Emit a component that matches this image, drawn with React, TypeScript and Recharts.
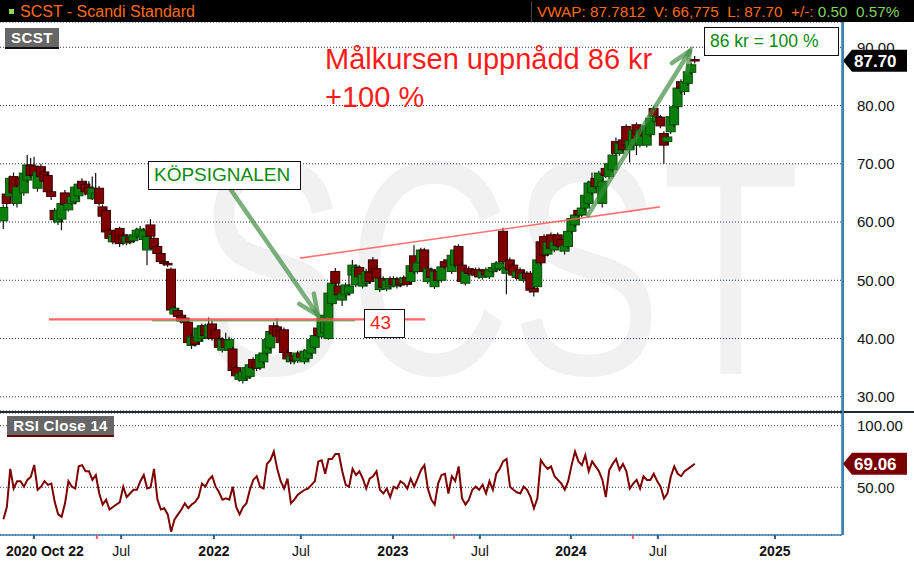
import React from "react";
import {
  Bar,
  CartesianGrid,
  ComposedChart,
  Line,
  ReferenceLine,
  XAxis,
  YAxis
} from "recharts";

const FONT = "'Liberation Sans', Arial, Helvetica, sans-serif";

// weekly candles, late Oct 2020 -> mid Sep 2024
const opens = [
  60.2, 64.8, 64.4, 67.8, 63.2, 67.6, 65.0, 67.2, 69.8, 69.6,
  65.8, 69.5, 68.6, 68.0, 65.2, 62.0, 60.0, 60.5, 65.0, 62.1,
  63.2, 63.5, 64.5, 67.0, 66.5, 66.0, 64.0, 64.0, 65.8, 62.6,
  62.0, 58.6, 56.6, 58.5, 58.9, 57.8, 56.4, 57.3, 56.8, 57.5,
  57.8, 57.0, 55.2, 59.5, 57.2, 55.8, 54.6, 53.2, 52.9, 51.9,
  44.2, 44.8, 44.0, 43.5, 42.8, 38.8, 40.2, 39.5, 40.0, 42.2,
  40.2, 42.5, 41.5, 40.0, 38.0, 39.8, 38.0, 38.2, 35.0, 33.0,
  32.8, 33.2, 33.5, 36.4, 36.0, 35.0, 36.0, 37.5, 38.4, 42.2,
  42.0, 41.4, 41.5, 37.6, 36.0, 37.0, 36.2, 37.5, 36.0, 36.6,
  37.5, 38.5, 41.8, 40.3, 41.0, 40.0, 46.0, 51.5, 49.0, 46.6,
  47.5, 47.8, 50.9, 49.2, 52.2, 49.0, 49.5, 51.4, 53.5, 52.0,
  48.4, 50.3, 48.5, 48.9, 50.3, 49.0, 50.2, 49.5, 50.5, 49.8,
  54.2, 51.5, 53.0, 55.2, 49.8, 51.8, 48.9, 51.5, 50.0, 53.2,
  53.5, 51.5, 52.6, 55.8, 52.6, 49.5, 52.0, 51.6, 51.8, 51.8,
  50.5, 51.8, 50.6, 51.5, 51.8, 52.0, 58.4, 51.2, 53.5, 52.6,
  50.5, 51.8, 50.0, 51.2, 51.2, 48.6, 48.9, 56.6, 57.5, 54.5,
  57.8, 55.2, 57.8, 57.0, 55.0, 55.8, 58.4, 59.5, 62.0, 61.2,
  62.4, 63.2, 65.0, 67.5, 66.1, 63.2, 69.2, 67.8, 69.0, 73.8,
  71.8, 74.1, 76.4, 72.4, 73.2, 76.7, 73.2, 75.6, 73.2, 75.0,
  79.5, 77.2, 78.0, 75.2, 73.8, 75.5, 76.7, 79.8, 84.1, 82.4,
  83.8, 85.7, 87.9
];

const highs = [
  63.0, 65.4, 68.0, 68.5, 66.5, 68.2, 69.0, 71.5, 71.0, 71.2,
  69.0, 70.0, 69.2, 68.4, 65.6, 62.4, 62.5, 63.8, 65.5, 63.8,
  64.8, 66.5, 67.0, 67.5, 67.0, 67.0, 67.8, 68.4, 66.2, 63.0,
  62.4, 59.0, 58.2, 58.9, 59.2, 58.2, 57.9, 57.8, 58.3, 59.0,
  59.3, 59.0, 58.0, 60.5, 57.6, 56.2, 55.0, 53.5, 53.3, 52.2,
  45.6, 45.2, 44.3, 43.8, 43.0, 40.8, 40.6, 42.2, 42.6, 42.6,
  43.6, 43.0, 41.8, 40.4, 40.2, 41.0, 40.3, 38.6, 35.4, 34.4,
  34.7, 35.4, 35.9, 36.8, 36.4, 37.6, 38.0, 40.2, 41.6, 42.8,
  43.5, 41.8, 41.9, 38.0, 37.4, 37.4, 37.9, 37.9, 38.2, 38.4,
  40.2, 40.9, 42.2, 43.9, 44.4, 48.2, 49.9, 52.1, 49.4, 48.2,
  49.6, 51.0, 53.5, 52.7, 52.6, 51.4, 52.0, 51.8, 54.0, 52.4,
  50.7, 50.7, 50.4, 50.7, 50.7, 50.6, 50.6, 50.8, 50.9, 53.0,
  56.0, 53.4, 55.6, 55.6, 52.4, 52.2, 51.9, 51.9, 52.7, 53.6,
  53.9, 54.7, 56.0, 56.2, 53.0, 51.9, 52.4, 52.0, 52.2, 52.2,
  51.9, 52.2, 52.2, 52.6, 53.3, 53.4, 59.0, 52.6, 53.9, 53.0,
  51.9, 52.2, 51.6, 51.6, 51.6, 49.0, 53.9, 57.0, 57.9, 56.9,
  58.2, 57.0, 58.2, 57.4, 56.4, 58.8, 61.0, 61.6, 62.4, 62.8,
  65.0, 67.1, 68.5, 67.9, 68.8, 67.4, 69.6, 70.4, 71.9, 74.5,
  73.9, 76.0, 76.8, 74.4, 76.2, 77.1, 76.2, 76.0, 76.9, 79.0,
  79.9, 78.5, 78.4, 75.6, 75.0, 78.5, 80.2, 83.4, 84.5, 84.5,
  86.5, 87.4, 88.5
];

const lows = [
  58.8, 62.5, 63.8, 62.8, 62.5, 65.5, 64.5, 66.8, 67.5, 67.6,
  65.2, 67.2, 66.0, 64.8, 63.8, 59.8, 59.5, 58.6, 62.5, 61.8,
  62.9, 63.0, 64.0, 65.2, 64.6, 64.3, 63.8, 63.5, 62.8, 60.5,
  58.0, 56.8, 56.2, 56.2, 55.7, 56.0, 56.0, 56.2, 56.4, 57.2,
  57.4, 56.5, 52.6, 57.0, 55.0, 54.2, 52.8, 52.5, 52.3, 44.5,
  43.8, 43.4, 42.6, 42.4, 38.8, 38.2, 38.6, 39.0, 39.6, 40.0,
  39.8, 39.6, 39.4, 38.0, 37.6, 38.0, 37.6, 34.0, 33.2, 32.6,
  32.3, 32.8, 33.1, 34.6, 34.4, 34.6, 35.6, 37.1, 38.0, 40.3,
  40.0, 38.8, 37.2, 36.0, 35.6, 35.6, 35.8, 36.4, 35.6, 36.2,
  37.1, 38.1, 40.1, 40.0, 40.6, 39.8, 45.6, 49.0, 46.8, 45.6,
  47.0, 47.4, 50.5, 48.8, 50.2, 48.6, 49.0, 49.4, 51.0, 49.2,
  48.0, 48.4, 48.1, 48.5, 48.8, 48.6, 48.8, 49.1, 48.9, 49.4,
  51.1, 51.1, 52.6, 51.1, 49.4, 50.1, 48.5, 49.6, 49.6, 51.9,
  52.6, 51.1, 52.2, 52.2, 49.4, 49.1, 50.8, 50.7, 50.5, 50.2,
  50.1, 50.5, 50.2, 51.1, 51.4, 51.6, 52.8, 47.6, 51.4, 50.5,
  50.1, 49.9, 49.6, 49.9, 47.9, 47.2, 48.5, 52.6, 53.9, 54.1,
  55.1, 54.8, 55.6, 55.0, 54.4, 55.4, 58.0, 59.1, 60.8, 60.8,
  62.0, 62.8, 64.6, 65.7, 65.7, 62.5, 67.6, 67.4, 68.6, 71.4,
  71.4, 72.0, 72.8, 70.2, 72.8, 71.5, 72.8, 74.4, 72.8, 74.6,
  77.7, 76.8, 76.1, 70.0, 73.4, 75.1, 76.3, 79.4, 82.0, 81.8,
  83.4, 85.3, 87.2
];

const closes = [
  62.5, 63.2, 67.5, 65.0, 66.0, 66.3, 68.4, 69.8, 68.0, 68.1,
  68.6, 67.8, 67.0, 65.2, 64.4, 60.4, 62.0, 63.2, 63.0, 63.2,
  64.4, 66.0, 66.5, 65.8, 65.2, 64.8, 65.8, 65.0, 63.2, 61.0,
  58.3, 57.2, 57.8, 56.6, 56.3, 56.5, 57.5, 56.6, 57.8, 58.6,
  58.8, 58.5, 57.5, 57.6, 55.5, 54.6, 53.2, 52.9, 52.8, 44.9,
  45.2, 43.8, 43.0, 42.8, 39.3, 40.3, 39.0, 41.8, 42.2, 40.5,
  42.3, 40.0, 40.0, 38.5, 39.8, 38.5, 39.8, 34.5, 33.6, 34.0,
  34.3, 35.0, 35.5, 35.0, 34.9, 37.2, 37.5, 39.8, 41.2, 40.8,
  40.4, 39.3, 37.6, 36.5, 37.0, 36.2, 37.5, 36.8, 37.8, 38.0,
  39.8, 40.5, 40.5, 43.5, 44.0, 47.8, 49.5, 49.5, 47.5, 47.8,
  49.2, 49.0, 52.6, 52.3, 50.6, 51.0, 51.5, 49.8, 51.5, 50.4,
  50.3, 48.8, 50.0, 50.3, 49.2, 50.2, 49.2, 50.4, 49.3, 52.5,
  51.5, 53.0, 55.2, 51.5, 52.0, 50.5, 51.5, 50.0, 52.3, 52.3,
  53.0, 54.3, 55.2, 52.6, 49.8, 51.5, 51.2, 51.1, 50.9, 50.6,
  51.5, 50.9, 51.8, 52.2, 52.9, 53.0, 53.2, 52.2, 51.8, 50.9,
  51.5, 50.3, 51.2, 50.3, 48.3, 48.0, 53.5, 53.0, 54.3, 56.5,
  55.5, 56.6, 56.0, 55.8, 56.0, 58.4, 60.6, 61.2, 61.2, 62.4,
  64.6, 66.7, 66.9, 66.1, 68.4, 67.0, 68.0, 70.0, 71.5, 71.8,
  73.5, 72.4, 73.2, 74.0, 75.8, 74.4, 75.8, 74.8, 76.5, 77.8,
  78.1, 78.1, 76.5, 73.2, 74.6, 78.1, 79.8, 83.0, 83.0, 84.1,
  85.8, 87.0, 87.7
];

const rsiClose14 = [
  24, 34, 65, 49, 55, 55, 50.5, 56, 58.6, 68,
  48, 50.5, 55, 52, 53, 38, 28, 26, 37, 55,
  50.5, 49, 67, 68, 63, 63, 56, 60, 45, 36,
  40, 32, 34, 36, 38, 50.5, 42, 45, 48, 48,
  55, 60, 49, 50, 65, 40, 32, 33, 28, 14,
  24, 28, 32, 37, 33, 36, 38, 42, 53, 50.5,
  56, 59, 50.5, 46, 40, 41, 40, 50.5, 34, 28,
  34, 37, 48, 56, 59, 50.5, 49, 69, 72, 79,
  65, 55, 49, 57, 37, 40, 44, 46, 48, 49,
  52, 55, 71, 72, 61, 73, 73, 77, 77, 63,
  52, 50.5, 65, 60, 63, 57, 49, 57, 59, 63,
  48, 45, 49, 42, 50.5, 49, 55, 53, 49, 57,
  50.5, 57, 64, 68, 49, 40, 36, 53, 60, 61,
  45, 59, 55, 67, 41, 36, 40, 48, 50.5, 48,
  52, 45, 55, 48, 61, 65, 71, 73, 50.5, 48,
  46, 45, 50.5, 48, 42, 33, 41, 72, 68, 65,
  67, 59, 56, 53, 48, 55, 68, 79, 71, 68,
  76, 63, 71, 67, 63, 56, 42, 64, 69, 73,
  64, 69, 63, 49, 53, 56, 49, 59, 56, 56,
  61, 55, 50.5, 41, 45, 59, 67, 61, 59, 63,
  65, 67, 69.06
];

const lastPrice = 87.7;
const lastRsi = 69.06;

const priceTicks = [30, 40, 50, 60, 70, 80, 90];
const rsiTicks = [50, 100];

// time axis ticks in week units
const timeTicks = [8.9, 27.3, 34.4, 61.5, 86.9, 113.8, 131.6, 139.2, 165.8, 183.9, 191.2, 225.4];
const timeLabels = ["2020 Oct 22", "", "Jul", "2022", "Jul", "2023", "", "Jul", "2024", "", "Jul", "2025"];
const eventTicks = [27.3, 131.6, 183.9];

// drawn annotations, in (week, price)
const buyLine = [{ x: 13.3, y: 43.3 }, { x: 123.2, y: 43.3 }];
const buyLineShadow = [{ x: 43.4, y: 43.05 }, { x: 102.7, y: 43.05 }];
const resistanceLine = [{ x: 86.6, y: 53.8 }, { x: 191.8, y: 62.6 }];
const signalArrow = [{ x: 66.5, y: 65.5 }, { x: 91.9, y: 44.0 }];
const targetArrow = [{ x: 170.8, y: 61.2 }, { x: 200.6, y: 89.4 }];

const rows = closes.map((close, i) => ({
  week: i,
  open: opens[i],
  high: highs[i],
  low: lows[i],
  close,
  range: [lows[i], highs[i]],
  rsi: rsiClose14[i]
}));

const xDomain: [number, number] = [-1, 245];

function Candle(props: any) {
  const { x, y, width, height, payload } = props;
  if (x == null || payload == null) return null;
  const top = Math.min(y, y + height);
  const h = Math.abs(height);
  const { open, close, high, low } = payload;
  const span = high - low || 1;
  const toY = (v: number) => top + ((high - v) / span) * h;
  const cx = x + width / 2;
  const up = close >= open;
  const b1 = toY(Math.max(open, close));
  const b2 = toY(Math.min(open, close));
  return (
    <g>
      <line x1={cx} x2={cx} y1={top} y2={top + h} stroke="#111" strokeWidth={1.2} />
      <rect
        x={cx - 4.5}
        y={b1}
        width={9}
        height={Math.max(b2 - b1, 1.5)}
        fill={up ? "#0b7f0b" : "#7e0000"}
        stroke={up ? "#0b4a0b" : "#3a0000"}
        strokeWidth={1}
      />
    </g>
  );
}

function Arrow(props: any) {
  const { x1, y1, x2, y2 } = props;
  if (x1 == null) return null;
  const ang = Math.atan2(y2 - y1, x2 - x1);
  const head = 22;
  const spread = 0.42;
  const ax = x2 - head * Math.cos(ang - spread);
  const ay = y2 - head * Math.sin(ang - spread);
  const bx = x2 - head * Math.cos(ang + spread);
  const by = y2 - head * Math.sin(ang + spread);
  return (
    <g stroke="#3c8a3c" strokeOpacity={0.68} strokeWidth={4.5} strokeLinecap="round" fill="none">
      <line x1={x1} y1={y1} x2={x2} y2={y2} />
      <polyline points={`${ax},${ay} ${x2},${y2} ${bx},${by}`} />
    </g>
  );
}

function makeTag(fill: string, text: string) {
  return (props: any) => {
    const { x1, x2, y1 } = props;
    if (x2 == null) return null;
    const x = Math.max(x1, x2) + 1;
    const pts = `${x},${y1} ${x + 9},${y1 - 11} ${x + 64},${y1 - 11} ${x + 64},${y1 + 11} ${x + 9},${y1 + 11}`;
    return (
      <g>
        <polygon points={pts} fill={fill} />
        <text
          x={x + 11}
          y={y1 + 6}
          fill="#fff"
          fontFamily={FONT}
          fontWeight="bold"
          fontSize={17}
        >
          {text}
        </text>
      </g>
    );
  };
}

const PriceTag = makeTag("#000", lastPrice.toFixed(2));
const RsiTag = makeTag("#780000", lastRsi.toFixed(2));

function TimeTick(props: any) {
  const { x, y, payload } = props;
  const idx = timeTicks.indexOf(payload.value);
  const label = timeLabels[idx] ?? "";
  const axisY = y - 8;
  const isEvent = eventTicks.includes(payload.value);
  const first = idx === 0;
  return (
    <g>
      <line
        x1={x}
        x2={x}
        y1={axisY}
        y2={axisY + 4}
        stroke={isEvent ? "#ff5a5a" : "#1d5f8c"}
        strokeWidth={2}
      />
      {label && (
        <text
          x={first ? x - 28 : x}
          y={y + 13}
          textAnchor={first ? "start" : "middle"}
          fontFamily={FONT}
          fontSize={14}
          fontWeight={label === "Jul" ? "normal" : "bold"}
          fill="#111"
        >
          {label}
        </text>
      )}
    </g>
  );
}

const box: React.CSSProperties = {
  position: "absolute",
  background: "#fff",
  border: "1.5px solid #111",
  fontFamily: FONT,
  boxSizing: "border-box",
  whiteSpace: "nowrap"
};

export default function App() {
  return (
    <div
      style={{
        position: "fixed",
        left: 0,
        top: 0,
        width: 914,
        height: 563,
        background: "#fff",
        overflow: "hidden",
        fontFamily: FONT
      }}
    >
      {/* header bar */}
      <div style={{ position: "absolute", left: 0, top: 0, width: 914, height: 22, background: "#000" }}>
        <div style={{ position: "absolute", left: 9, top: 9, width: 5, height: 5, background: "#8ed85a" }} />
        <div style={{ position: "absolute", left: 20, top: 2, fontSize: 16, lineHeight: "20px", color: "#ff6a10" }}>
          SCST - Scandi Standard
        </div>
        <div style={{ position: "absolute", left: 531, top: 1, width: 1, height: 21, background: "#444" }} />
        <div
          style={{
            position: "absolute",
            left: 537,
            top: 2,
            fontSize: 15.3,
            lineHeight: "20px",
            whiteSpace: "pre",
            color: "#ff6a10"
          }}
        >
          {"VWAP: 87.7812  V: 66,775  L: 87.70  +/-: "}
          <span style={{ color: "#7fd35a" }}>{"0.50  0.57%"}</span>
        </div>
      </div>

      {/* watermark */}
      <svg style={{ position: "absolute", left: 0, top: 0 }} width={914} height={563}>
        <text
          x={196}
          y={374}
          fontFamily={FONT}
          fontSize={306}
          fill="#f1f1f1"
          textLength={604}
          lengthAdjust="spacingAndGlyphs"
        >
          SCST
        </text>
      </svg>

      {/* price panel */}
      <div style={{ position: "absolute", left: 0, top: 22 }}>
        <ComposedChart width={914} height={389} data={rows} margin={{ top: 0, right: 0, bottom: 0, left: 0 }}>
          <CartesianGrid vertical={false} stroke="#27384a" strokeDasharray="1 2" />
          <XAxis dataKey="week" type="number" domain={xDomain} allowDataOverflow hide />
          <YAxis
            orientation="right"
            width={72}
            domain={[27.56, 94.34]}
            ticks={priceTicks}
            allowDataOverflow
            tickFormatter={(v: number) => v.toFixed(2)}
            tick={{ fontSize: 15, fill: "#111", fontFamily: FONT }}
            tickLine={false}
            tickMargin={9}
            axisLine={{ stroke: "#3d7fb0", strokeWidth: 1.5 }}
          />
          <ReferenceLine segment={buyLineShadow} stroke="#4caf50" strokeOpacity={0.8} strokeWidth={1.5} />
          <ReferenceLine segment={buyLine} stroke="#ff4a4a" strokeOpacity={0.85} strokeWidth={2.2} />
          <ReferenceLine segment={resistanceLine} stroke="#ff5a5a" strokeOpacity={0.85} strokeWidth={1.6} />
          <Bar dataKey="range" barSize={8} shape={Candle} isAnimationActive={false} />
          <ReferenceLine segment={signalArrow} shape={Arrow} />
          <ReferenceLine segment={targetArrow} shape={Arrow} />
          <ReferenceLine y={lastPrice} shape={PriceTag} />
        </ComposedChart>
      </div>

      {/* panel separator */}
      <div style={{ position: "absolute", left: 0, top: 411, width: 914, height: 2, background: "#1c2a38" }} />
      <div style={{ position: "absolute", left: 842, top: 22, width: 1.5, height: 513, background: "#3d7fb0" }} />

      {/* RSI panel */}
      <div style={{ position: "absolute", left: 0, top: 413 }}>
        <ComposedChart width={914} height={150} data={rows} margin={{ top: 0, right: 0, bottom: 0, left: 0 }}>
          <CartesianGrid vertical={false} stroke="#27384a" strokeDasharray="1 2" />
          <XAxis
            dataKey="week"
            type="number"
            domain={xDomain}
            allowDataOverflow
            ticks={timeTicks}
            interval={0}
            height={28}
            tick={<TimeTick />}
            tickLine={false}
            axisLine={{ stroke: "#3d7fb0", strokeWidth: 1.5 }}
          />
          <YAxis
            orientation="right"
            width={72}
            domain={[11.3, 110.3]}
            ticks={rsiTicks}
            allowDataOverflow
            tickFormatter={(v: number) => v.toFixed(2)}
            tick={{ fontSize: 15, fill: "#111", fontFamily: FONT }}
            tickLine={false}
            tickMargin={9}
            axisLine={{ stroke: "#3d7fb0", strokeWidth: 1.5 }}
          />
          <Line
            dataKey="rsi"
            type="linear"
            stroke="#7d0000"
            strokeWidth={2}
            dot={false}
            isAnimationActive={false}
          />
          <ReferenceLine y={lastRsi} shape={RsiTag} />
        </ComposedChart>
      </div>

      {/* panel labels */}
      <div
        style={{
          position: "absolute",
          left: 5,
          top: 28,
          width: 54,
          height: 21,
          background: "#666",
          borderBottom: "2px solid #111",
          boxSizing: "border-box",
          color: "#fff",
          fontWeight: "bold",
          fontSize: 15,
          lineHeight: "19px",
          textAlign: "center",
          letterSpacing: 0.5
        }}
      >
        SCST
      </div>
      <div
        style={{
          position: "absolute",
          left: 7,
          top: 416,
          width: 107,
          height: 21,
          background: "#666",
          borderBottom: "2px solid #6b0000",
          boxSizing: "border-box",
          color: "#fff",
          fontWeight: "bold",
          fontSize: 15,
          lineHeight: "19px",
          textAlign: "center",
          letterSpacing: 0.3
        }}
      >
        RSI Close 14
      </div>

      {/* annotations */}
      <div
        style={{
          position: "absolute",
          left: 325,
          top: 40,
          fontSize: 29,
          lineHeight: "38px",
          color: "#ff1a1a",
          whiteSpace: "nowrap"
        }}
      >
        Målkursen uppnådd 86 kr
        <br />
        +100 %
      </div>
      <div
        style={{
          ...box,
          left: 704,
          top: 27,
          width: 135,
          height: 29,
          color: "#0a8a0a",
          fontSize: 17.5,
          lineHeight: "26px",
          paddingLeft: 5
        }}
      >
        86 kr = 100 %
      </div>
      <div
        style={{
          ...box,
          left: 148,
          top: 161,
          width: 153,
          height: 29,
          color: "#0a8a0a",
          fontSize: 19,
          lineHeight: "26px",
          paddingLeft: 5
        }}
      >
        KÖPSIGNALEN
      </div>
      <div
        style={{
          ...box,
          left: 364,
          top: 309,
          width: 41,
          height: 29,
          color: "#ff2020",
          fontSize: 19,
          lineHeight: "26px",
          paddingLeft: 5
        }}
      >
        43
      </div>
    </div>
  );
}
